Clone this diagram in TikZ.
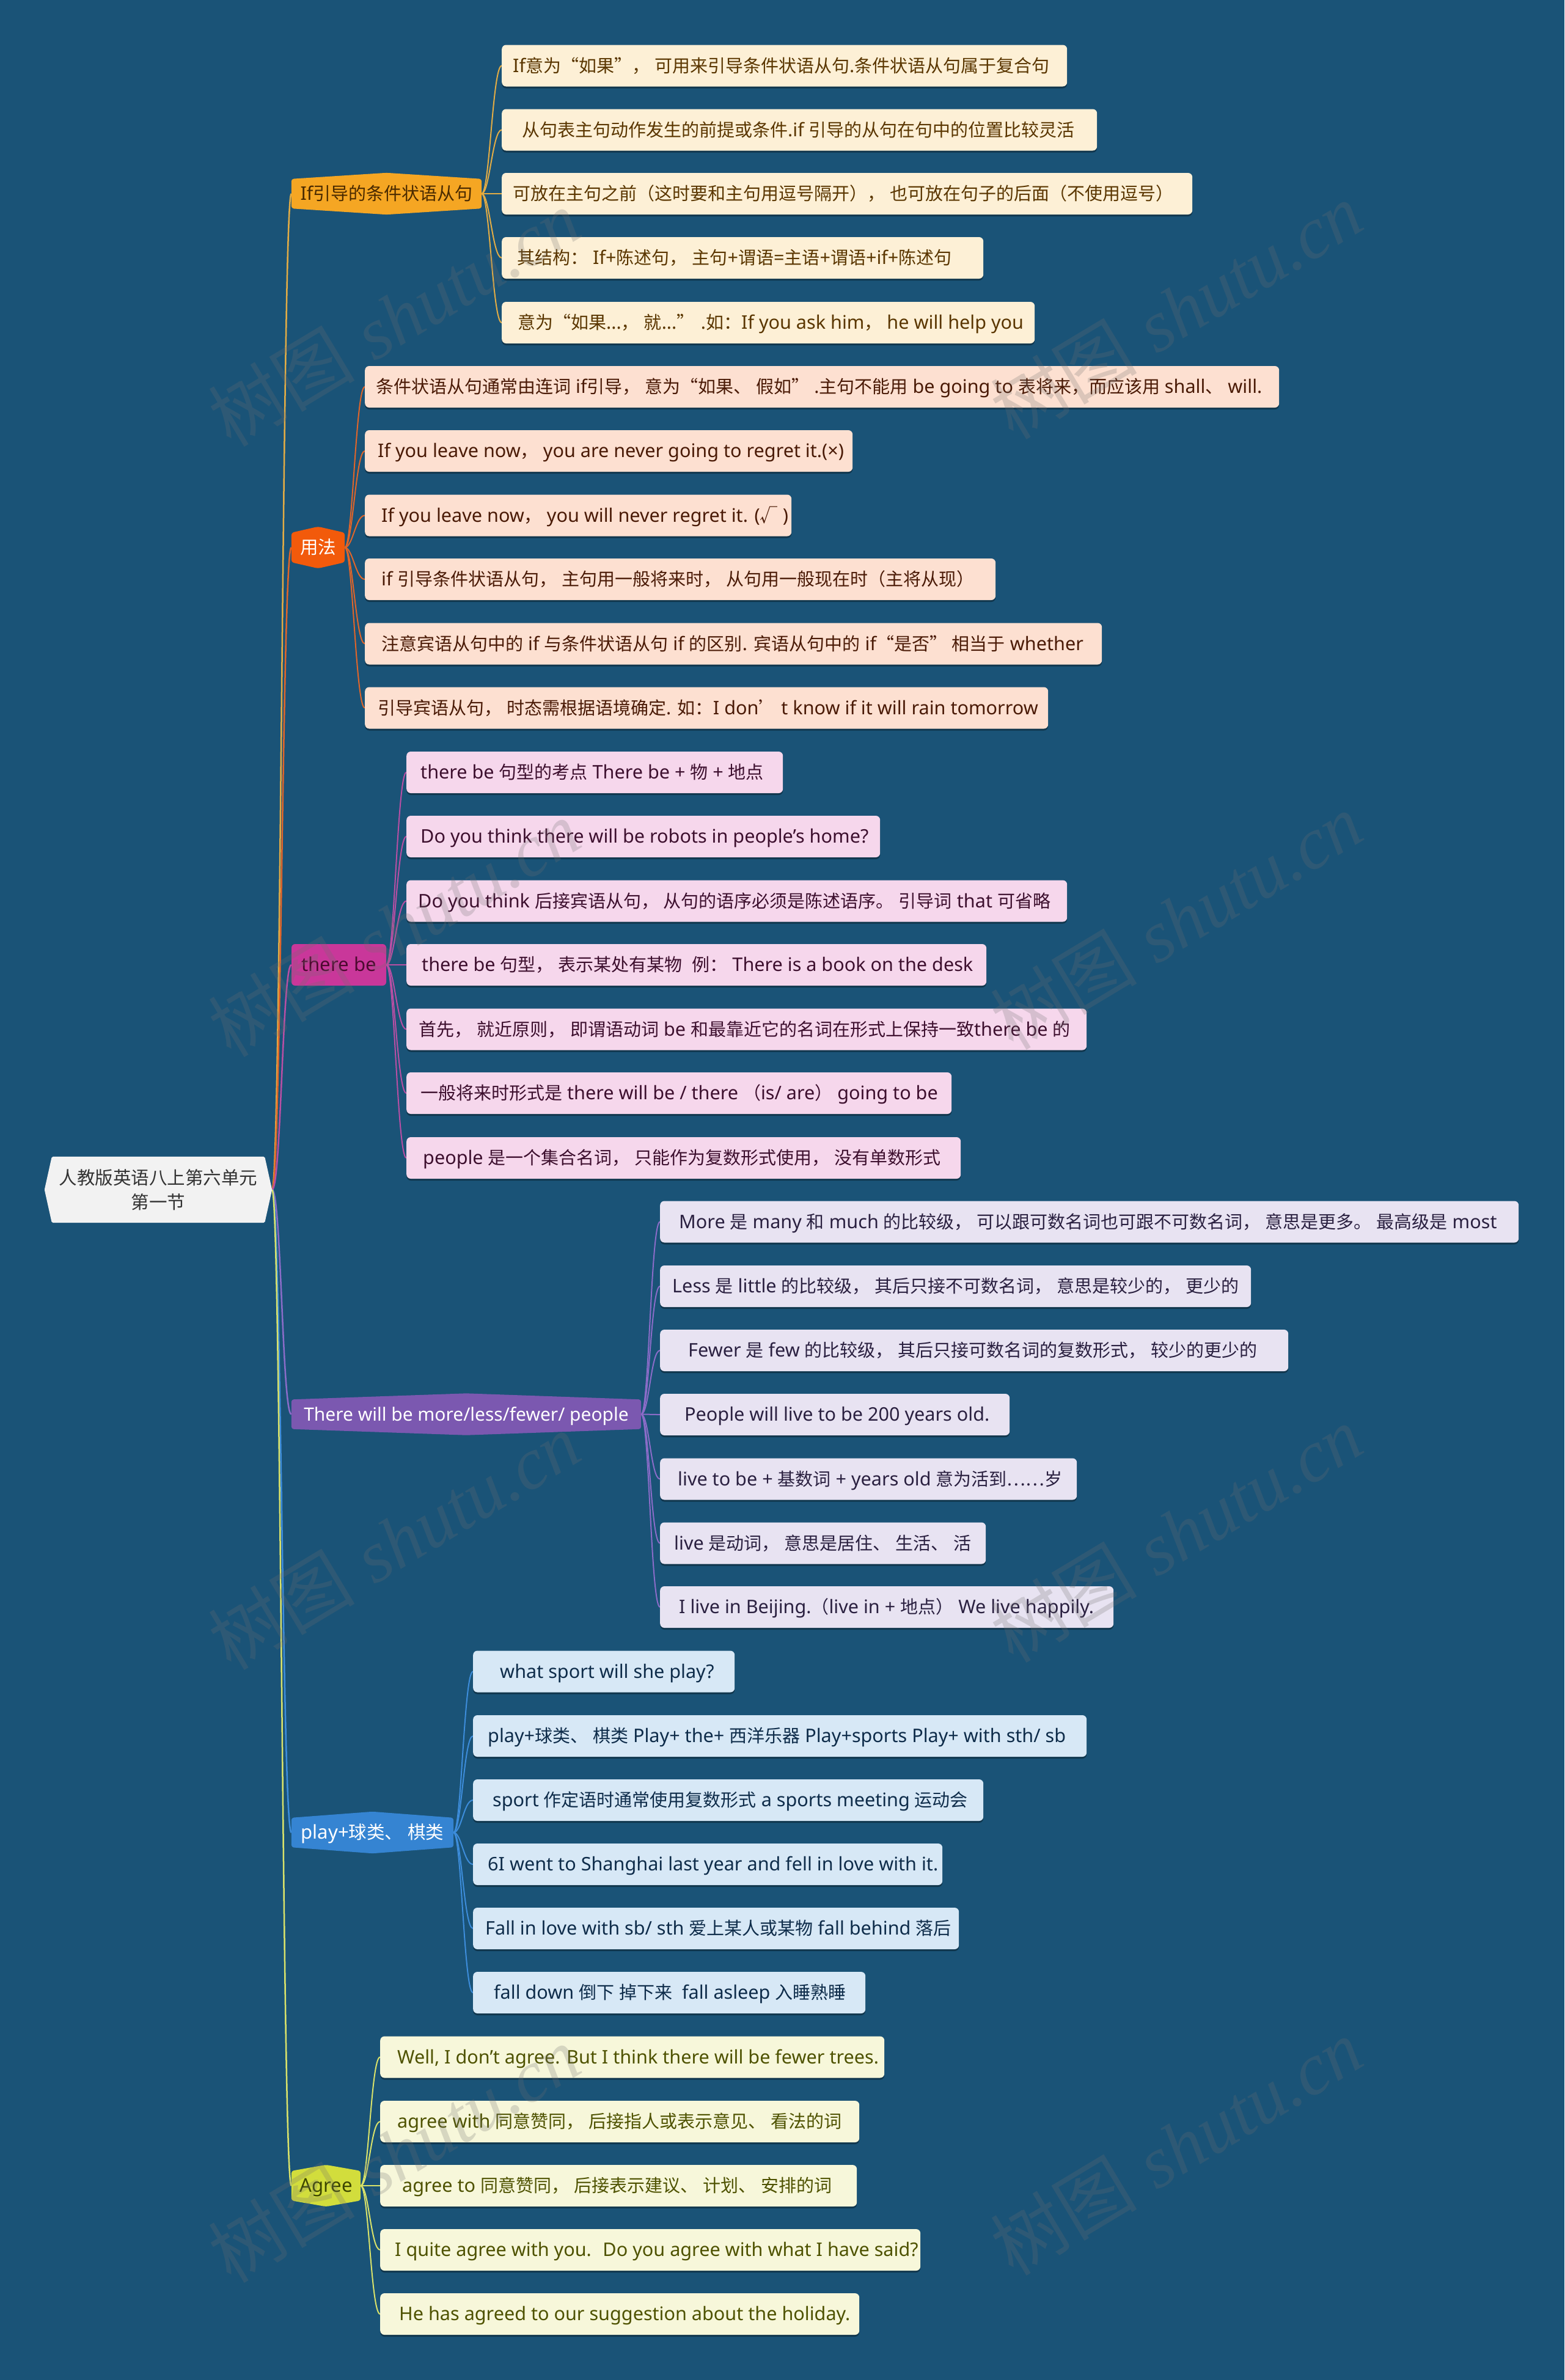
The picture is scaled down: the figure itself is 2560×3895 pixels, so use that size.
\documentclass[tikz,border=0pt]{standalone}
\usepackage{fontspec}
\setmainfont{Noto Sans}[Scale=1.055]
\newfontfamily\latinfont{Noto Sans}[Scale=1.055]
\newfontfamily\cjkfont{Noto Sans CJK SC}
\newfontfamily\wmfont{Liberation Serif}
\usetikzlibrary{shadows,calc}
% --- automatic switch between Latin and CJK fonts ---
\XeTeXinterchartokenstate=1
\newXeTeXintercharclass\cjkcls
\makeatletter
\def\setcjkrange#1#2{\count@=#1\relax\loop\XeTeXcharclass\count@=\cjkcls\relax\ifnum\count@<#2\relax\advance\count@ by 1\relax\repeat}
\makeatother
\setcjkrange{"2E80}{"9FFF}
\setcjkrange{"FF00}{"FFEF}
\XeTeXcharclass"2018=\cjkcls
\XeTeXcharclass"2019=\cjkcls
\XeTeXcharclass"201C=\cjkcls
\XeTeXcharclass"201D=\cjkcls
\XeTeXcharclass"2026=\cjkcls
\XeTeXcharclass"221A=\cjkcls
\XeTeXinterchartoks 0 \cjkcls = {\cjkfont}
\XeTeXinterchartoks 4095 \cjkcls = {\cjkfont}
\XeTeXinterchartoks \cjkcls 0 = {\latinfont}
\XeTeXinterchartoks \cjkcls 4095 = {\latinfont}
% --- colours ---
\definecolor{bgc}{HTML}{1A5377}
\definecolor{rootf}{HTML}{F2F2F2}
\definecolor{roott}{HTML}{333333}
\definecolor{c1}{HTML}{F5A623}\definecolor{c1l}{HTML}{E2AC45}\definecolor{c1t}{HTML}{4A2A00}
\definecolor{f1}{HTML}{FDF0D6}\definecolor{t1}{HTML}{5A3600}
\definecolor{c2}{HTML}{F25A0B}\definecolor{c2l}{HTML}{E0652A}
\definecolor{f2}{HTML}{FDE0D1}\definecolor{t2}{HTML}{4A1A06}
\definecolor{c3}{HTML}{C9379A}\definecolor{c3l}{HTML}{B84FA4}\definecolor{c3t}{HTML}{4D0A30}
\definecolor{f3}{HTML}{F6D7EC}\definecolor{t3}{HTML}{3D0F2E}
\definecolor{c4}{HTML}{7B58B0}\definecolor{c4l}{HTML}{8A6CC8}
\definecolor{f4}{HTML}{E8E3F2}\definecolor{t4}{HTML}{2A2040}
\definecolor{c5}{HTML}{3584D2}\definecolor{c5l}{HTML}{3D8DDB}
\definecolor{f5}{HTML}{D7E8F6}\definecolor{t5}{HTML}{0E2C4A}
\definecolor{c6}{HTML}{D2DD3C}\definecolor{c6l}{HTML}{D9E26A}\definecolor{c6t}{HTML}{3C4600}
\definecolor{f6}{HTML}{F7F7DA}\definecolor{t6}{HTML}{4E5200}
\definecolor{wmc}{HTML}{707070}
\pgfdeclarelayer{bg}\pgfdeclarelayer{mid}\pgfsetlayers{bg,mid,main}
\tikzset{
  leafbox/.style={anchor=west, inner xsep=0pt, inner ysep=0pt, minimum height=68pt,
    rounded corners=7pt, text height=24pt, text depth=3pt,
    font=\fontsize{29}{34}\selectfont,
    drop shadow={shadow xshift=0pt, shadow yshift=-3pt, opacity=0.35, fill=black}},
  g1/.style={leafbox, fill=f1, text=t1},
  g2/.style={leafbox, fill=f2, text=t2},
  g3/.style={leafbox, fill=f3, text=t3},
  g4/.style={leafbox, fill=f4, text=t4},
  g5/.style={leafbox, fill=f5, text=t5},
  g6/.style={leafbox, fill=f6, text=t6},
  bnode/.style={inner sep=0pt, minimum height=68pt, text height=24pt, text depth=3pt,
    font=\fontsize{29.5}{34}\selectfont},
  trunk/.style={line width=2.5pt},
  twig/.style={line width=2pt},
  wmark/.style={rotate=31, text=wmc, opacity=0.24, font=\fontsize{120}{120}\selectfont}
}
\newcommand\lnode[7]{\node[#1,minimum width=#5pt] (#2) at (#3,#4) {\makebox[#5pt][l]{\hspace*{#6pt}#7}};}
\newcommand\hexfill[2]{%
  \begin{pgfonlayer}{mid}
  \fill[#2, rounded corners=4pt] ($(#1.north west)+(0,10)$) -- (#1.north) -- ($(#1.north east)+(0,10)$)
    -- ($(#1.south east)+(0,-10)$) -- (#1.south) -- ($(#1.south west)+(0,-10)$) -- cycle;
  \end{pgfonlayer}}
\begin{document}
\begin{tikzpicture}[x=1pt,y=-1pt]
\useasboundingbox (0,0) rectangle (2560,3895);
\begin{pgfonlayer}{bg}
\fill[bgc] (0,0) rectangle (2560,3895);
\end{pgfonlayer}

% root
\node[inner sep=0pt, minimum width=372pt, minimum height=108pt, align=center,
  font=\fontsize{29.5}{40}\selectfont, text=roott] (root) at (259,1947) {人教版英语八上第六单元\\第一节};
\begin{pgfonlayer}{mid}
\fill[rootf, rounded corners=2pt] ($(root.north west)+(12,0)$) -- ($(root.north east)+(-12,0)$) -- (root.east)
  -- ($(root.south east)+(-12,0)$) -- ($(root.south west)+(12,0)$) -- (root.west) -- cycle;
\end{pgfonlayer}

% branches
\node[bnode, minimum width=311pt, text=c1t, font=\fontsize{29}{34}\selectfont] (b1) at (632.5,317) {If引导的条件状语从句};
\hexfill{b1}{c1}
\node[bnode, minimum width=87pt, text=white] (b2) at (520.5,896) {用法};
\hexfill{b2}{c2}
\node[bnode, minimum width=155pt, text=c3t, fill=c3, rounded corners=6pt] (b3) at (554.5,1579) {there be};
\node[bnode, minimum width=572pt, text=white, font=\fontsize{28.4}{34}\selectfont] (b4) at (763,2314.5) {There will be more/less/fewer/ people};
\hexfill{b4}{c4}
\node[bnode, minimum width=265pt, text=white] (b5) at (609.5,2999) {play+球类、 棋类};
\hexfill{b5}{c5}
\node[bnode, minimum width=113pt, text=c6t] (b6) at (533.5,3577) {Agree};
\hexfill{b6}{c6}

% leaves: group 1
\lnode{g1}{l11}{821}{107.5}{925}{18}{If意为“如果”， 可用来引导条件状语从句.条件状语从句属于复合句}
\lnode{g1}{l12}{821}{212.5}{974}{33}{从句表主句动作发生的前提或条件.if 引导的从句在句中的位置比较灵活}
\lnode{g1}{l13}{821}{317}{1130}{18}{可放在主句之前（这时要和主句用逗号隔开）， 也可放在句子的后面（不使用逗号）}
\lnode{g1}{l14}{821}{422}{788}{25}{其结构： If+陈述句， 主句+谓语=主语+谓语+if+陈述句}
\lnode{g1}{l15}{821}{528}{872}{26}{意为“如果...， 就...” .如：If you ask him， he will help you}
% group 2
\lnode{g2}{l21}{597}{633}{1496}{18}{条件状语从句通常由连词 if引导， 意为“如果、 假如” .主句不能用 be going to 表将来，而应该用 shall、 will.}
\lnode{g2}{l22}{597}{738}{798}{21}{If you leave now， you are never going to regret it.(×)}
\lnode{g2}{l23}{597}{843.5}{698}{27}{If you leave now， you will never regret it. (√ )}
\lnode{g2}{l24}{597}{948}{1032}{27}{if 引导条件状语从句， 主句用一般将来时， 从句用一般现在时（主将从现）}
\lnode{g2}{l25}{597}{1053.5}{1206}{27}{注意宾语从句中的 if 与条件状语从句 if 的区别. 宾语从句中的 if“是否” 相当于 whether}
\lnode{g2}{l26}{597}{1158.5}{1118}{21}{引导宾语从句， 时态需根据语境确定. 如：I don’ t know if it will rain tomorrow}
% group 3
\lnode{g3}{l31}{665}{1264}{616}{23}{there be 句型的考点 There be + 物 + 地点}
\lnode{g3}{l32}{665}{1369}{775}{23}{Do you think there will be robots in people's home?}
\lnode{g3}{l33}{665}{1474.5}{1081}{19}{Do you think 后接宾语从句， 从句的语序必须是陈述语序。 引导词 that 可省略}
\lnode{g3}{l34}{665}{1579}{949}{25}{there be 句型， 表示某处有某物~ 例： There is a book on the desk}
\lnode{g3}{l35}{665}{1684.5}{1113}{20}{首先， 就近原则， 即谓语动词 be 和最靠近它的名词在形式上保持一致there be 的}
\lnode{g3}{l36}{665}{1789}{892}{23}{一般将来时形式是 there will be / there （is/ are） going to be}
\lnode{g3}{l37}{665}{1895}{907}{27}{people 是一个集合名词， 只能作为复数形式使用， 没有单数形式}
% group 4
\lnode{g4}{l41}{1080}{1999.5}{1405}{31}{More 是 many 和 much 的比较级， 可以跟可数名词也可跟不可数名词， 意思是更多。 最高级是 most}
\lnode{g4}{l42}{1080}{2105}{967}{20}{Less 是 little 的比较级， 其后只接不可数名词， 意思是较少的， 更少的}
\lnode{g4}{l43}{1080}{2210}{1028}{46}{Fewer 是 few 的比较级， 其后只接可数名词的复数形式， 较少的更少的}
\lnode{g4}{l44}{1080}{2315}{572}{40}{People will live to be 200 years old.}
\lnode{g4}{l45}{1080}{2420.5}{682}{29}{live to be + 基数词 + years old 意为活到……岁}
\lnode{g4}{l46}{1080}{2525.5}{533}{23}{live 是动词， 意思是居住、 生活、 活}
\lnode{g4}{l47}{1080}{2630}{742}{31}{I live in Beijing.（live in + 地点） We live happily.}
% group 5
\lnode{g5}{l51}{774}{2735.5}{428}{44}{what sport will she play?}
\lnode{g5}{l52}{774}{2841}{1004}{24}{play+球类、 棋类 Play+ the+ 西洋乐器 Play+sports Play+ with sth/ sb}
\lnode{g5}{l53}{774}{2946}{835}{32}{sport 作定语时通常使用复数形式 a sports meeting 运动会}
\lnode{g5}{l54}{774}{3051}{768}{24}{6I went to Shanghai last year and fell in love with it.}
\lnode{g5}{l55}{774}{3156}{795}{20}{Fall in love with sb/ sth 爱上某人或某物 fall behind 落后}
\lnode{g5}{l56}{774}{3261}{642}{34}{fall down 倒下 掉下来~ fall asleep 入睡熟睡}
% group 6
\lnode{g6}{l61}{622}{3366.5}{825}{28}{Well, I don't agree. But I think there will be fewer trees.}
\lnode{g6}{l62}{622}{3472}{784}{28}{agree with 同意赞同， 后接指人或表示意见、 看法的词}
\lnode{g6}{l63}{622}{3577}{780}{36}{agree to 同意赞同， 后接表示建议、 计划、 安排的词}
\lnode{g6}{l64}{622}{3682}{884}{24}{I quite agree with you.~ Do you agree with what I have said?}
\lnode{g6}{l65}{622}{3787}{784}{31}{He has agreed to our suggestion about the holiday.}

% connectors
\begin{pgfonlayer}{bg}
\draw[trunk,c1l] (root.east) .. controls +(15,0) and +(-15,0) .. (b1.west);
\draw[trunk,c2l] (root.east) .. controls +(15,0) and +(-15,0) .. (b2.west);
\draw[trunk,c3l] (root.east) .. controls +(15,0) and +(-15,0) .. (b3.west);
\draw[trunk,c4l] (root.east) .. controls +(15,0) and +(-15,0) .. (b4.west);
\draw[trunk,c5l] (root.east) .. controls +(15,0) and +(-15,0) .. (b5.west);
\draw[trunk,c6l] (root.east) .. controls +(15,0) and +(-15,0) .. (b6.west);
\foreach \i in {1,...,5} \draw[twig,c1l] (b1.east) .. controls +(13,0) and +(-15,0) .. (l1\i.west);
\foreach \i in {1,...,6} \draw[twig,c2l] (b2.east) .. controls +(13,0) and +(-15,0) .. (l2\i.west);
\foreach \i in {1,...,7} \draw[twig,c3l] (b3.east) .. controls +(13,0) and +(-15,0) .. (l3\i.west);
\foreach \i in {1,...,7} \draw[twig,c4l] (b4.east) .. controls +(13,0) and +(-15,0) .. (l4\i.west);
\foreach \i in {1,...,6} \draw[twig,c5l] (b5.east) .. controls +(13,0) and +(-15,0) .. (l5\i.west);
\foreach \i in {1,...,5} \draw[twig,c6l] (b6.east) .. controls +(13,0) and +(-15,0) .. (l6\i.west);
\end{pgfonlayer}

% watermarks
\foreach \wx/\wy [count=\k] in {645/520,645/1519,645/2522,645/3525,1925/508,1925/1507,1925/2510,1925/3513}
  \node[wmark] (wm\k) at (\wx,\wy) {{\cjkfont 树图} {\wmfont\itshape shutu.cn}};
\end{tikzpicture}
\end{document}
